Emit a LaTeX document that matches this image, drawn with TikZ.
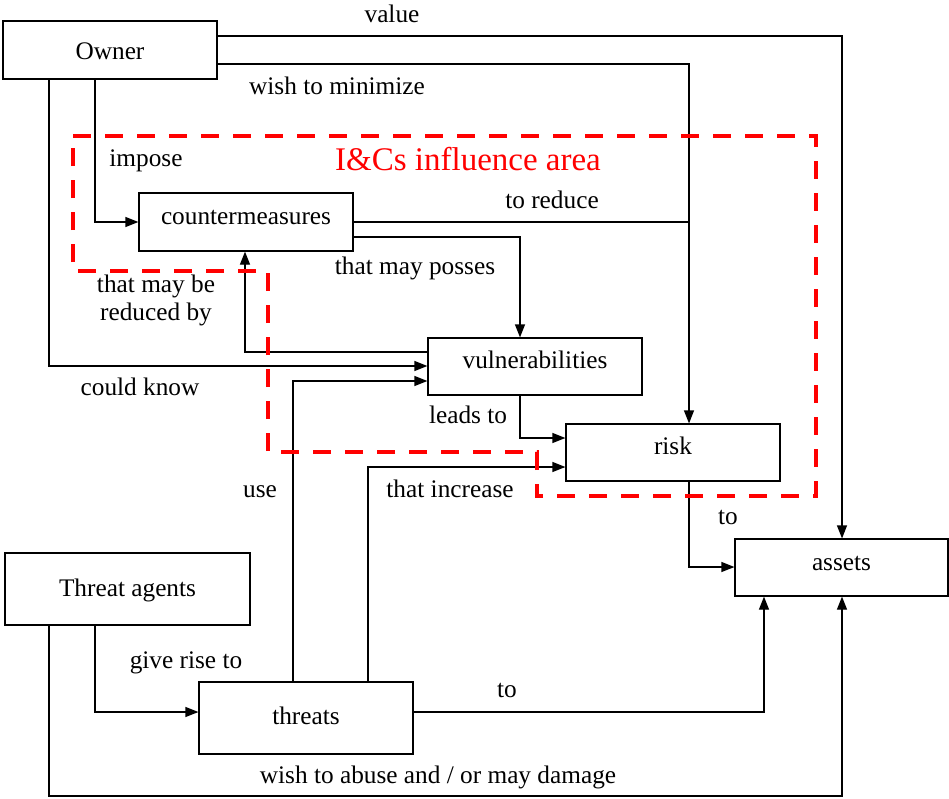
\documentclass[tikz,border=0pt]{standalone}
\usepackage{fontspec}
\setmainfont{LiberationSerif}[Extension=.ttf, UprightFont=*-Regular, BoldFont=*-Bold]
\usetikzlibrary{arrows.meta}
\newcommand{\mainfs}{\fontsize{25.3}{28}\selectfont}
\newcommand{\titlefs}{\fontsize{33}{36}\selectfont}
\begin{document}
\begin{tikzpicture}[x=1pt,y=-1pt,
  box/.style={draw, line width=1.2pt, inner sep=0pt, font=\mainfs, text depth=0pt},
  conn/.style={line width=1.2pt},
  arr/.style={conn, -{Triangle[length=13pt,width=10pt]}},
  lbl/.style={font=\mainfs, inner sep=0pt, anchor=base},
  zone/.style={draw=red, line width=4pt, dash pattern=on 18pt off 14pt},
]
\useasboundingbox[fill=white] (0,0) rectangle (949,798);

% boxes
\node[box, minimum width=214pt, minimum height=58pt, text height=18pt] (owner) at (110,50) {Owner};
\node[box, minimum width=214pt, minimum height=58pt, text height=4pt] (cm) at (246,222) {countermeasures};
\node[box, minimum width=214pt, minimum height=57pt, text height=3pt] (vuln) at (535,366.5) {vulnerabilities};
\node[box, minimum width=214pt, minimum height=57pt, text height=3pt] (risk) at (673,452.5) {risk};
\node[box, minimum width=213pt, minimum height=57pt, text height=5pt] (assets) at (841.5,567.5) {assets};
\node[box, minimum width=245pt, minimum height=72pt, text height=14pt] (ta) at (127.5,589) {Threat agents};
\node[box, minimum width=214pt, minimum height=72pt, text height=12pt] (threats) at (306,718) {threats};

% bend points
\coordinate (vA) at (842,36);
\coordinate (wA) at (689,64);
\coordinate (iA) at (95,222);
\coordinate (kA) at (49,366);
\coordinate (pA) at (520,237);
\coordinate (rA) at (245,352);
\coordinate (lA) at (520,438);
\coordinate (uA) at (293,381);
\coordinate (nA) at (368,467);
\coordinate (tA) at (689,567);
\coordinate (gA) at (95,712);
\coordinate (hA) at (764,712);
\coordinate (dA) at (49,796);
\coordinate (dB) at (842,796);

% connectors
\draw[arr] (owner.east |- vA) -- (vA) -- (assets.north -| vA);
\draw[arr] (owner.east |- wA) -- (wA) -- (risk.north -| wA);
\draw[arr] (owner.south -| iA) -- (iA) -- (cm.west |- iA);
\draw[arr] (owner.south -| kA) -- (kA) -- (vuln.west |- kA);
\draw[conn] (cm.east) -- (cm.east -| wA);
\draw[arr] (cm.east |- pA) -- (pA) -- (vuln.north -| pA);
\draw[arr] (vuln.west |- rA) -- (rA) -- (cm.south -| rA);
\draw[arr] (vuln.south -| lA) -- (lA) -- (risk.west |- lA);
\draw[arr] (threats.north -| uA) -- (uA) -- (vuln.west |- uA);
\draw[arr] (threats.north -| nA) -- (nA) -- (risk.west |- nA);
\draw[arr] (risk.south -| tA) -- (tA) -- (assets.west |- tA);
\draw[arr] (ta.south -| gA) -- (gA) -- (threats.west |- gA);
\draw[arr] (threats.east |- hA) -- (hA) -- (assets.south -| hA);
\draw[arr] (ta.south -| dA) -- (dA) -- (dB) -- (assets.south -| dB);

% labels
\node[lbl] (l1) at (392,22) {value};
\node[lbl] (l2) at (337,94) {wish to minimize};
\node[lbl] (l3) at (146,166) {impose};
\node[lbl] (l4) at (552,208) {to reduce};
\node[lbl] (l5) at (415,274) {that may posses};
\node[font=\mainfs, inner sep=0pt, align=center] (l6) at (156,300) {that may be\\reduced by};
\node[lbl] (l7) at (140,395) {could know};
\node[lbl] (l8) at (468,423) {leads to};
\node[lbl] (l9) at (260,497) {use};
\node[lbl] (l10) at (450,497) {that increase};
\node[lbl] (l11) at (728,524) {to};
\node[lbl] (l12) at (186,668) {give rise to};
\node[lbl] (l13) at (507,697) {to};
\node[lbl] (l14) at (438,783) {wish to abuse and / or may damage};

% influence area
\draw[zone] (73,136) -- (816,136) -- (816,496) -- (537,496) -- (537,452) -- (268,452) -- (268,271) -- (73,271) -- cycle;
\node[font=\titlefs, text=red, inner sep=0pt, anchor=base] (title) at (468,170) {I\&Cs influence area};
\end{tikzpicture}
\end{document}
